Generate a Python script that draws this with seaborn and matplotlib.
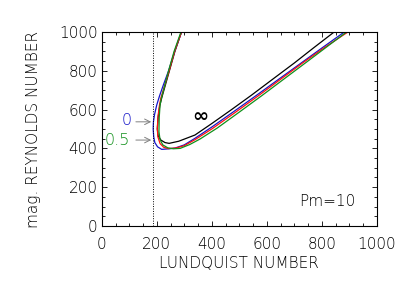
import pandas as pd
import matplotlib
matplotlib.use('Agg')
import matplotlib.pyplot as plt
from matplotlib.ticker import MultipleLocator
import seaborn as sns

# Кривые устойчивости (читаются с картинки): x = Lundquist, y = mag. Reynolds
# путь: верх верхней ветви -> левая точка -> минимум -> нижняя ветвь -> верх
black_x = [290, 266, 246, 230, 218, 211, 205, 202, 205, 215, 230, 245, 280, 339,
           400, 470, 545, 620, 700, 770, 845]
black_y = [1000, 900, 800, 720, 660, 620, 560, 500, 465, 443, 430, 426, 437, 469,
           528, 598, 675, 755, 840, 918, 1000]

blue_x = [290, 265, 243, 224, 210, 200, 192, 188, 187, 189, 193, 203, 218, 245,
          267, 300, 339, 400, 480, 564, 640, 720, 800, 882]
blue_y = [1000, 900, 800, 727, 670, 624, 575, 538, 500, 460, 430, 408, 395, 398,
          402, 418, 452, 510, 590, 675, 753, 835, 917, 1000]

red_x = [290, 265, 245, 228, 215, 210, 205, 202, 204, 212, 225, 242, 270, 300,
         339, 400, 480, 570, 650, 730, 810, 895]
red_y = [1000, 900, 800, 720, 660, 624, 570, 504, 460, 425, 406, 399, 402, 414,
         445, 500, 580, 672, 756, 840, 920, 1000]

green_x = [288, 263, 243, 228, 217, 212, 209, 208, 212, 222, 240, 260, 285, 320,
           357, 420, 500, 582, 660, 740, 815, 890]
green_y = [1000, 900, 800, 720, 660, 624, 560, 486, 445, 418, 403, 398, 400, 420,
           448, 505, 587, 672, 755, 840, 920, 1000]

x_ticks = [0, 200, 400, 600, 800, 1000]
y_ticks = [0, 200, 400, 600, 800, 1000]

frames = []
for name, xs, ys in [('inf', black_x, black_y), ('0', blue_x, blue_y),
                     ('red', red_x, red_y), ('0.5', green_x, green_y)]:
    frames.append(pd.DataFrame({'S': xs, 'Rm': ys, 'curve': name}))
data = pd.concat(frames, ignore_index=True)

palette = {'inf': 'black', '0': '#1414c8', 'red': '#ff1010', '0.5': '#10901a'}

sns.set_style('ticks')
plt.rcParams['font.family'] = ['DejaVu Sans']
plt.rcParams['font.weight'] = 'light'
plt.rcParams['axes.labelweight'] = 'light'

fig = plt.figure(figsize=(4.07, 2.91), dpi=100)
ax = fig.add_axes([0.25, 0.2234, 0.6757, 0.6666])

sns.lineplot(data=data, x='S', y='Rm', hue='curve', units='curve', sort=False,
             estimator=None, palette=palette, linewidth=0.9, legend=False, ax=ax)

ax.axvline(188, color='black', linestyle=(0, (1, 1.5)), linewidth=0.7)

ax.set_xlim(0, 1000)
ax.set_ylim(0, 1000)
ax.set_xticks(x_ticks)
ax.set_yticks(y_ticks)
ax.xaxis.set_minor_locator(MultipleLocator(50))
ax.yaxis.set_minor_locator(MultipleLocator(50))
ax.tick_params(which='both', direction='in', top=True, right=True,
               labelsize=11, width=0.6, colors='black')
ax.tick_params(axis='x', which='major', pad=8)
ax.tick_params(axis='y', which='major', pad=3)
ax.tick_params(which='major', length=3.5)
ax.tick_params(which='minor', length=2.5)
for sp in ax.spines.values():
    sp.set_linewidth(0.8)
    sp.set_color('black')

ax.set_xlabel('LUNDQUIST NUMBER', fontsize=11, labelpad=3, color='black')
ax.set_ylabel('mag. REYNOLDS NUMBER', fontsize=11, labelpad=13, color='black')

# подписи и стрелки
ax.annotate('', xy=(190, 537), xytext=(114, 537),
            arrowprops=dict(arrowstyle='->', color='gray', lw=0.7))
ax.annotate('', xy=(190, 443), xytext=(114, 443),
            arrowprops=dict(arrowstyle='->', color='gray', lw=0.7))
ax.text(92, 545, '0', color='#1414c8', fontsize=11.5, ha='center', va='center')
ax.text(57, 443, '0.5', color='#10901a', fontsize=11.5, ha='center', va='center')
ax.text(358, 567, '∞', color='black', fontsize=14, fontweight='bold',
        ha='center', va='center')
ax.text(924, 125, 'Pm=10', fontsize=11, ha='right', va='center', color='black')

plt.savefig('out.png', dpi=100)
